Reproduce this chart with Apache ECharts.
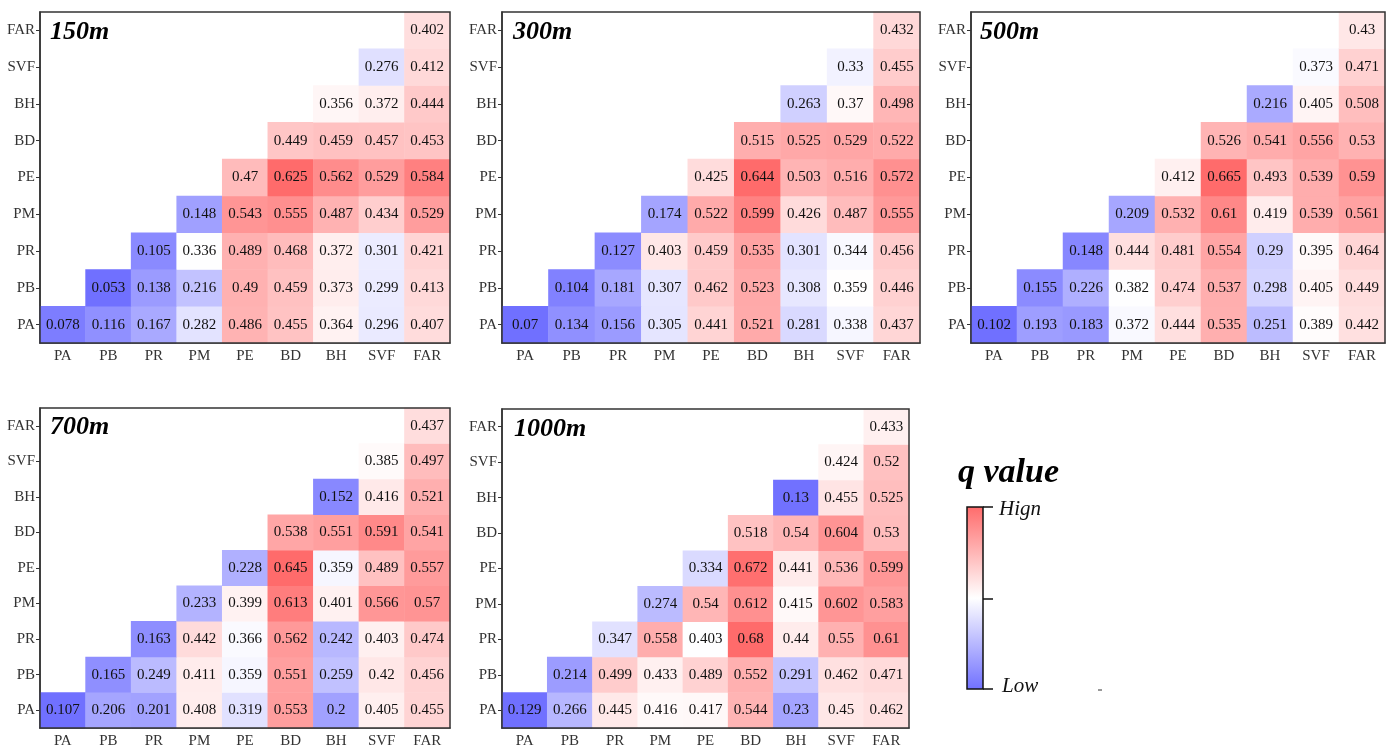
<!DOCTYPE html>
<html>
<head>
<meta charset="utf-8">
<script src="https://cdn.jsdelivr.net/npm/echarts@6/dist/echarts.min.js"></script>
<style>
  html, body { margin: 0; padding: 0; background: #fff; }
  #chart { width: 1392px; height: 749px; }
</style>
</head>
<body>
<div id="chart"></div>
<script>
const factors = ['PA', 'PB', 'PR', 'PM', 'PE', 'BD', 'BH', 'SVF', 'FAR']
const scales = ['150m', '300m', '500m', '700m', '1000m']

// each row i holds values for columns i..8 (lower triangle)
const q150 = [
  [0.078, 0.116, 0.167, 0.282, 0.486, 0.455, 0.364, 0.296, 0.407],
  [0.053, 0.138, 0.216, 0.49, 0.459, 0.373, 0.299, 0.413],
  [0.105, 0.336, 0.489, 0.468, 0.372, 0.301, 0.421],
  [0.148, 0.543, 0.555, 0.487, 0.434, 0.529],
  [0.47, 0.625, 0.562, 0.529, 0.584],
  [0.449, 0.459, 0.457, 0.453],
  [0.356, 0.372, 0.444],
  [0.276, 0.412],
  [0.402]
]
const q300 = [
  [0.07, 0.134, 0.156, 0.305, 0.441, 0.521, 0.281, 0.338, 0.437],
  [0.104, 0.181, 0.307, 0.462, 0.523, 0.308, 0.359, 0.446],
  [0.127, 0.403, 0.459, 0.535, 0.301, 0.344, 0.456],
  [0.174, 0.522, 0.599, 0.426, 0.487, 0.555],
  [0.425, 0.644, 0.503, 0.516, 0.572],
  [0.515, 0.525, 0.529, 0.522],
  [0.263, 0.37, 0.498],
  [0.33, 0.455],
  [0.432]
]
const q500 = [
  [0.102, 0.193, 0.183, 0.372, 0.444, 0.535, 0.251, 0.389, 0.442],
  [0.155, 0.226, 0.382, 0.474, 0.537, 0.298, 0.405, 0.449],
  [0.148, 0.444, 0.481, 0.554, 0.29, 0.395, 0.464],
  [0.209, 0.532, 0.61, 0.419, 0.539, 0.561],
  [0.412, 0.665, 0.493, 0.539, 0.59],
  [0.526, 0.541, 0.556, 0.53],
  [0.216, 0.405, 0.508],
  [0.373, 0.471],
  [0.43]
]
const q700 = [
  [0.107, 0.206, 0.201, 0.408, 0.319, 0.553, 0.2, 0.405, 0.455],
  [0.165, 0.249, 0.411, 0.359, 0.551, 0.259, 0.42, 0.456],
  [0.163, 0.442, 0.366, 0.562, 0.242, 0.403, 0.474],
  [0.233, 0.399, 0.613, 0.401, 0.566, 0.57],
  [0.228, 0.645, 0.359, 0.489, 0.557],
  [0.538, 0.551, 0.591, 0.541],
  [0.152, 0.416, 0.521],
  [0.385, 0.497],
  [0.437]
]
const q1000 = [
  [0.129, 0.266, 0.445, 0.416, 0.417, 0.544, 0.23, 0.45, 0.462],
  [0.214, 0.499, 0.433, 0.489, 0.552, 0.291, 0.462, 0.471],
  [0.347, 0.558, 0.403, 0.68, 0.44, 0.55, 0.61],
  [0.274, 0.54, 0.612, 0.415, 0.602, 0.583],
  [0.334, 0.672, 0.441, 0.536, 0.599],
  [0.518, 0.54, 0.604, 0.53],
  [0.13, 0.455, 0.525],
  [0.424, 0.52],
  [0.433]
]
const panels = [q150, q300, q500, q700, q1000]

const grids = [
  { left: 40, top: 12, width: 410, height: 331 },
  { left: 502, top: 12, width: 418, height: 331 },
  { left: 971, top: 12, width: 414, height: 331 },
  { left: 40, top: 408, width: 410, height: 324 },
  { left: 502, top: 409, width: 407, height: 321 }
]
const titlePos = [
  { left: 45, top: 14 },
  { left: 508, top: 14 },
  { left: 975, top: 14 },
  { left: 45, top: 409 },
  { left: 509, top: 411 }
]

const serif = 'Liberation Serif'
const low = '#7070ff', mid = '#ffffff', high = '#ff6b6b'

const toCells = rows => {
  const cells = []
  rows.forEach((row, i) => {
    row.forEach((v, k) => cells.push([i + k, i, v]))
  })
  return cells
}

const option = {
  animation: false,
  title: scales.map((s, i) => ({
    text: s,
    left: titlePos[i].left,
    top: titlePos[i].top,
    textStyle: { fontFamily: serif, fontSize: 26, fontWeight: 'bold', fontStyle: 'italic', color: '#000' }
  })),
  // frame drawn above the cells
  grid: grids.map(g => ({ ...g, show: true, z: 5, borderColor: '#333', borderWidth: 1.5, backgroundColor: 'transparent' })),
  xAxis: grids.map((g, i) => ({
    type: 'category',
    gridIndex: i,
    data: factors,
    axisLine: { lineStyle: { color: '#333', width: 1.5 } },
    axisTick: { show: false },
    axisLabel: { fontFamily: serif, fontSize: 15, color: '#333', margin: 6 },
    splitArea: { show: false }
  })),
  yAxis: grids.map((g, i) => ({
    type: 'category',
    gridIndex: i,
    data: factors,
    axisLine: { lineStyle: { color: '#333', width: 1.5 } },
    axisTick: { show: true, alignWithLabel: true, length: 4, lineStyle: { color: '#333' } },
    axisLabel: { fontFamily: serif, fontSize: 15, color: '#333', margin: 5 },
    splitArea: { show: false }
  })),
  visualMap: panels.map((rows, i) => {
    const vals = rows.flat()
    return {
      show: false,
      type: 'continuous',
      seriesIndex: i,
      dimension: 2,
      min: Math.min(...vals),
      max: Math.max(...vals),
      inRange: { color: [low, mid, high] }
    }
  }),
  series: panels.map((rows, i) => ({
    type: 'heatmap',
    name: scales[i],
    xAxisIndex: i,
    yAxisIndex: i,
    data: toCells(rows),
    label: {
      show: true,
      formatter: p => String(p.value[2]),
      fontFamily: serif,
      fontSize: 15,
      color: '#111'
    },
    itemStyle: { borderWidth: 0 },
    emphasis: { disabled: true }
  })),
  graphic: [
    {
      type: 'text', left: 958, top: 456,
      style: { text: 'q value', fontFamily: serif, fontSize: 34, fontWeight: 'bold', fontStyle: 'italic', fill: '#000' }
    },
    {
      type: 'rect', shape: { x: 967, y: 507, width: 16, height: 182 },
      style: {
        fill: new echarts.graphic.LinearGradient(0, 0, 0, 1, [
          { offset: 0, color: high },
          { offset: 0.5, color: mid },
          { offset: 1, color: low }
        ]),
        stroke: '#111', lineWidth: 1.5
      }
    },
    { type: 'line', shape: { x1: 983, y1: 507, x2: 993, y2: 507 }, style: { stroke: '#111', lineWidth: 1.5 } },
    { type: 'line', shape: { x1: 983, y1: 599, x2: 993, y2: 599 }, style: { stroke: '#111', lineWidth: 1.5 } },
    { type: 'line', shape: { x1: 983, y1: 689, x2: 993, y2: 689 }, style: { stroke: '#111', lineWidth: 1.5 } },
    {
      type: 'text', left: 999, top: 499,
      style: { text: 'Hign', fontFamily: serif, fontSize: 21, fontStyle: 'italic', fill: '#111' }
    },
    {
      type: 'text', left: 1002, top: 676,
      style: { text: 'Low', fontFamily: serif, fontSize: 21, fontStyle: 'italic', fill: '#111' }
    },
    { type: 'line', shape: { x1: 1098, y1: 690, x2: 1102, y2: 690 }, style: { stroke: '#333', lineWidth: 1 } }
  ]
}

const chart = echarts.init(document.getElementById('chart'))
chart.setOption(option)
window.addEventListener('resize', () => chart.resize())
</script>
</body>
</html>
